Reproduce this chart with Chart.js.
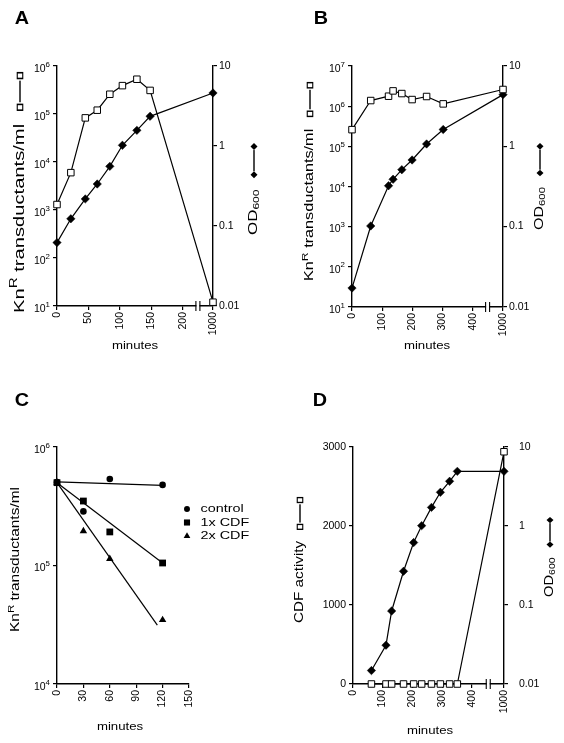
<!DOCTYPE html>
<html>
<head>
<meta charset="utf-8">
<title>KnR transductants, OD600 and CDF activity</title>
<script src="https://cdn.jsdelivr.net/npm/chart.js@4.4.1/dist/chart.umd.min.js"></script>
<style>
  html, body { margin: 0; padding: 0; background: #fff; }
  #page { position: relative; width: 564px; height: 743px; overflow: hidden; background: #fff; }
  #page canvas { position: absolute; }
</style>
</head>
<body>
<div id="page">
  <canvas id="chart-a" width="282" height="370" style="left:0;top:0"></canvas>
  <canvas id="chart-b" width="282" height="370" style="left:282px;top:0"></canvas>
  <canvas id="chart-c" width="282" height="373" style="left:0;top:370px"></canvas>
  <canvas id="chart-d" width="282" height="373" style="left:282px;top:370px"></canvas>
</div>
<script>
// Panel A: KnR transductants/ml (open squares) and OD600 (filled diamonds)
var aMinutes = [0, 22, 45, 64, 84, 104, 127, 148, 1000];
var aKnR = [1300, 6000, 83000, 120000, 258000, 390000, 530000, 310000, 12];
var aOD = [0.062, 0.123, 0.218, 0.335, 0.557, 1.02, 1.57, 2.35, 4.6];
var aXTicks = [0, 50, 100, 150, 200, 1000];
var aKnTicks = [10, 100, 1000, 10000, 100000, 1000000];
var aKnExp = ['1', '2', '3', '4', '5', '6'];

// Panel B
var bMinutes = [0, 62, 121, 136, 165, 199, 247, 302, 1000];
var bKnR = [260000, 1380000, 1770000, 2400000, 2060000, 1460000, 1740000, 1140000, 2600000];
var bOD = [0.0172, 0.102, 0.323, 0.389, 0.512, 0.676, 1.07, 1.62, 4.4];
var bXTicks = [0, 100, 200, 300, 400, 1000];
var bKnTicks = [10, 100, 1000, 10000, 100000, 1000000, 10000000];
var bKnExp = ['1', '2', '3', '4', '5', '6', '7'];

// Panel C: decay of transducing activity, measured points and fitted lines
var cMinutes = [0, 30, 60, 120];
var cControl = [505000, 286000, 537000, 479000];
var c1xCDF = [500000, 350000, 192000, 105000];
var c2xCDF = [500000, 195000, 114000, 34700];
var cFitMinutes = [0, 120];
var cFitControl = [507000, 474000];
var cFit1x = [500000, 105000];
var cFit2xMinutes = [0, 114];
var cFit2x = [500000, 31400];
var cLegend = ['control', '1x CDF', '2x CDF'];
var cXTicks = [0, 30, 60, 90, 120, 150];
var cKnTicks = [10000, 100000, 1000000];
var cKnExp = ['4', '5', '6'];

// Panel D: CDF activity (open squares) and OD600 (filled diamonds)
var dMinutes = [62, 111, 130, 170, 204, 231, 264, 294, 325, 351, 1000];
var dCDF = [0, 0, 0, 0, 0, 0, 0, 0, 0, 0, 2940];
var dOD = [0.0148, 0.031, 0.084, 0.267, 0.617, 1.01, 1.72, 2.67, 3.68, 4.92, 4.92];
var dXTicks = [0, 100, 200, 300, 400, 1000];
var dCDFTicks = [0, 1000, 2000, 3000];

var odTicks = [0.01, 0.1, 1, 10];
var odLabels = ['0.01', '0.1', '1', '10'];

var INK = '#000';
var FONT = '"Liberation Sans", Arial, Helvetica, sans-serif';

// plot boxes in canvas pixels; "cut" is where the axis break sits, "end" is where 1000 min lands
var GEO_A = { w: 282, h: 370, left: 57, right: 213, top: 66, bottom: 306, cut: 224, end: 248 };
var GEO_B = { w: 282, h: 370, left: 70, right: 221, top: 66, bottom: 307, cut: 449, end: 500 };
var GEO_C = { w: 282, h: 373, left: 57, right: 189, top: 77, bottom: 314 };
var GEO_D = { w: 282, h: 373, left: 71, right: 222, top: 77, bottom: 314, cut: 455, end: 508 };

function placeX(t, geo) { return geo.cut && t > geo.cut ? geo.end : t; }

function points(xs, ys, geo) {
  return xs.map(function (t, i) { return { x: geo ? placeX(t, geo) : t, y: ys[i] }; });
}

function measureParts(ctx, parts) {
  return parts.map(function (p) {
    if (p.t == null) return p.w;
    ctx.font = (p.bold ? 'bold ' : '') + p.size + 'px ' + FONT;
    return ctx.measureText(p.t).width;
  });
}

// one run of text pieces / key symbols on a common baseline, optionally rotated and stretched
function drawRich(ctx, parts, o) {
  var widths = measureParts(ctx, parts);
  var total = widths.reduce(function (a, b) { return a + b; }, 0);
  var sx = o.len ? o.len / total : (o.stretch || 1);
  var cur = o.align === 'right' ? -total : o.align === 'center' ? -total / 2 : 0;
  ctx.save();
  ctx.translate(o.x, o.y);
  if (o.rot) ctx.rotate(o.rot);
  ctx.scale(sx, 1);
  ctx.fillStyle = INK;
  ctx.strokeStyle = INK;
  ctx.textAlign = 'left';
  ctx.textBaseline = 'middle';
  parts.forEach(function (p, i) {
    var w = widths[i];
    if (p.t != null) {
      ctx.font = (p.bold ? 'bold ' : '') + p.size + 'px ' + FONT;
      ctx.fillText(p.t, cur, p.dy || 0);
    } else if (p.sym === 'square') {
      ctx.lineWidth = 1.1;
      ctx.strokeRect(cur + 0.5, -p.h / 2, w - 1, p.h);
    } else if (p.sym === 'diamond') {
      ctx.beginPath();
      ctx.moveTo(cur, 0);
      ctx.lineTo(cur + w / 2, -p.h / 2);
      ctx.lineTo(cur + w, 0);
      ctx.lineTo(cur + w / 2, p.h / 2);
      ctx.closePath();
      ctx.fill();
    } else if (p.sym === 'line') {
      ctx.fillRect(cur, -0.7, w, 1.4);
    }
    cur += w;
  });
  ctx.restore();
}

var TICK_PT = 10;
var TICK_STRETCH = 1.05;

function logLabels(ctx, scale, values, exps, gap) {
  values.forEach(function (v, i) {
    drawRich(ctx, [{ t: '10', size: TICK_PT }, { t: exps[i], size: 7.5, dy: -4.5 }],
      { x: scale.right - gap, y: scale.getPixelForValue(v) + 3, align: 'right', stretch: TICK_STRETCH });
  });
}

function plainLabels(ctx, scale, values, labels, gap, side) {
  values.forEach(function (v, i) {
    var left = side === 'left';
    drawRich(ctx, [{ t: labels[i], size: TICK_PT }],
      { x: left ? scale.right - gap : scale.left + gap, y: scale.getPixelForValue(v),
        align: left ? 'right' : 'left', stretch: TICK_STRETCH });
  });
}

function xLabels(ctx, scale, values, labels) {
  values.forEach(function (v, i) {
    drawRich(ctx, [{ t: String(labels[i]), size: TICK_PT }],
      { x: scale.getPixelForValue(v), y: scale.top + 6, rot: -Math.PI / 2, align: 'right', stretch: TICK_STRETCH });
  });
}

function vTitle(ctx, parts, x, yStart, yEnd) {
  drawRich(ctx, parts, { x: x, y: yStart, rot: -Math.PI / 2, len: yStart - yEnd });
}

function axisBreak(ctx, xs, at) {
  var px = xs.getPixelForValue(at);
  var y = xs.top;
  ctx.save();
  ctx.fillStyle = '#fff';
  ctx.fillRect(px - 1.5, y - 2, 3, 4);
  ctx.strokeStyle = INK;
  ctx.lineWidth = 1.1;
  ctx.beginPath();
  ctx.moveTo(px - 2, y - 5); ctx.lineTo(px - 2, y + 5);
  ctx.moveTo(px + 2, y - 5); ctx.lineTo(px + 2, y + 5);
  ctx.stroke();
  ctx.restore();
}

function knTitle(size) {
  return [{ t: 'Kn', size: size }, { t: 'R', size: size * 0.75, dy: -size * 0.4 }, { t: ' transductants/ml', size: size }];
}
var SQUARE_KEY = [{ w: 9 }, { sym: 'square', w: 5, h: 5.5 }, { w: 1 }, { sym: 'line', w: 15 }, { w: 1 }, { sym: 'square', w: 5, h: 5.5 }];
var OD_TITLE = [{ t: 'OD', size: 12 }, { t: '600', size: 8.5, dy: 3 }, { w: 8 },
  { sym: 'diamond', w: 5, h: 7 }, { sym: 'line', w: 15 }, { sym: 'diamond', w: 5, h: 7 }];

function panelLetter(ctx, letter, x, y) {
  drawRich(ctx, [{ t: letter, size: 18, bold: true }], { x: x, y: y, align: 'center', stretch: 1.1 });
}

function minutesLabel(ctx, x, y) {
  drawRich(ctx, [{ t: 'minutes', size: 11 }], { x: x, y: y, align: 'center', stretch: 1.2 });
}

function axis(extra) {
  var base = {
    ticks: { display: false },
    grid: { display: true, drawOnChartArea: false, drawTicks: true, tickLength: 4, color: INK, lineWidth: 1.2 },
    border: { display: true, color: INK, width: 1.4 }
  };
  return Object.assign(base, extra);
}

function fixedTicks(values) {
  return function (s) { s.ticks = values.map(function (v) { return { value: v }; }); };
}

function leftAxis(geo, extra) {
  return axis(Object.assign({ axis: 'y', position: 'left', afterFit: function (s) { s.width = geo.left; } }, extra));
}

function rightAxis(geo, extra) {
  return axis(Object.assign({ axis: 'y', position: 'right', afterFit: function (s) { s.width = geo.w - geo.right; } }, extra));
}

function squareSet(data, yAxisID) {
  return { data: data, yAxisID: yAxisID, showLine: true, clip: false, tension: 0,
    borderColor: INK, borderWidth: 1.2, pointStyle: 'rect', pointRadius: 4.6,
    pointBackgroundColor: '#fff', pointBorderColor: INK, pointBorderWidth: 1 };
}

function diamondSet(data, yAxisID) {
  return { data: data, yAxisID: yAxisID, showLine: true, clip: false, tension: 0,
    borderColor: INK, borderWidth: 1.2, pointStyle: 'rectRot', pointRadius: 4.2,
    pointBackgroundColor: INK, pointBorderColor: INK, pointBorderWidth: 0.5 };
}

function makeChart(id, geo, xMax, xTickPos, yScales, datasets, decorate) {
  var scales = {
    x: axis({ type: 'linear', axis: 'x', position: 'bottom', min: 0, max: xMax,
      afterBuildTicks: fixedTicks(xTickPos),
      afterFit: function (s) { s.height = geo.h - geo.bottom; } })
  };
  Object.keys(yScales).forEach(function (k) { scales[k] = yScales[k]; });
  return new Chart(document.getElementById(id), {
    type: 'scatter',
    data: { datasets: datasets },
    options: {
      responsive: false,
      animation: false,
      events: [],
      layout: { autoPadding: false, padding: { top: geo.top, left: 0, bottom: 0, right: geo.padRight || 0 } },
      plugins: { legend: { display: false }, tooltip: { enabled: false } },
      scales: scales
    },
    plugins: [{ id: 'decor-' + id, afterDraw: decorate }]
  });
}

// ---- A ----
makeChart('chart-a', GEO_A, GEO_A.end, aXTicks.map(function (t) { return placeX(t, GEO_A); }), {
  yKn: leftAxis(GEO_A, { type: 'logarithmic', min: 10, max: 1000000, afterBuildTicks: fixedTicks(aKnTicks) }),
  yOd: rightAxis(GEO_A, { type: 'logarithmic', min: 0.01, max: 10, afterBuildTicks: fixedTicks(odTicks) })
}, [
  squareSet(points(aMinutes, aKnR, GEO_A), 'yKn'),
  diamondSet(points(aMinutes, aOD, GEO_A), 'yOd')
], function (chart) {
  var ctx = chart.ctx, s = chart.scales;
  panelLetter(ctx, 'A', 22, 19);
  logLabels(ctx, s.yKn, aKnTicks, aKnExp, 7);
  plainLabels(ctx, s.yOd, odTicks, odLabels, 6, 'right');
  xLabels(ctx, s.x, aXTicks.map(function (t) { return placeX(t, GEO_A); }), aXTicks);
  axisBreak(ctx, s.x, GEO_A.cut);
  vTitle(ctx, knTitle(14).concat(SQUARE_KEY), 20, 313, 72);
  vTitle(ctx, OD_TITLE, 254, 235, 143);
  minutesLabel(ctx, 135, 346);
});

// ---- B ----
makeChart('chart-b', GEO_B, GEO_B.end, bXTicks.map(function (t) { return placeX(t, GEO_B); }), {
  yKn: leftAxis(GEO_B, { type: 'logarithmic', min: 10, max: 10000000, afterBuildTicks: fixedTicks(bKnTicks) }),
  yOd: rightAxis(GEO_B, { type: 'logarithmic', min: 0.01, max: 10, afterBuildTicks: fixedTicks(odTicks) })
}, [
  squareSet(points(bMinutes, bKnR, GEO_B), 'yKn'),
  diamondSet(points(bMinutes, bOD, GEO_B), 'yOd')
], function (chart) {
  var ctx = chart.ctx, s = chart.scales;
  panelLetter(ctx, 'B', 39, 19);
  logLabels(ctx, s.yKn, bKnTicks, bKnExp, 7);
  plainLabels(ctx, s.yOd, odTicks, odLabels, 6, 'right');
  xLabels(ctx, s.x, bXTicks.map(function (t) { return placeX(t, GEO_B); }), bXTicks);
  axisBreak(ctx, s.x, GEO_B.cut);
  vTitle(ctx, knTitle(12.5).concat(SQUARE_KEY), 28, 281, 82);
  vTitle(ctx, OD_TITLE, 258, 230, 143);
  minutesLabel(ctx, 145, 346);
});

// ---- C ----
GEO_C.padRight = GEO_C.w - GEO_C.right;
makeChart('chart-c', GEO_C, 150, cXTicks, {
  yKn: leftAxis(GEO_C, { type: 'logarithmic', min: 10000, max: 1000000, afterBuildTicks: fixedTicks(cKnTicks) })
}, [
  { data: points(cMinutes, cControl), yAxisID: 'yKn', showLine: false, clip: false, pointStyle: 'circle',
    pointRadius: 3.3, pointBackgroundColor: INK, pointBorderColor: INK, pointBorderWidth: 0 },
  { data: points(cMinutes, c1xCDF), yAxisID: 'yKn', showLine: false, clip: false, pointStyle: 'rect',
    pointRadius: 4.8, pointBackgroundColor: INK, pointBorderColor: INK, pointBorderWidth: 0 },
  { data: points(cMinutes, c2xCDF), yAxisID: 'yKn', showLine: false, clip: false, pointStyle: 'triangle',
    pointRadius: 4.3, pointBackgroundColor: INK, pointBorderColor: INK, pointBorderWidth: 0 },
  { data: points(cFitMinutes, cFitControl), yAxisID: 'yKn', showLine: true, clip: false, pointRadius: 0, borderColor: INK, borderWidth: 1.2 },
  { data: points(cFitMinutes, cFit1x), yAxisID: 'yKn', showLine: true, clip: false, pointRadius: 0, borderColor: INK, borderWidth: 1.2 },
  { data: points(cFit2xMinutes, cFit2x), yAxisID: 'yKn', showLine: true, clip: false, pointRadius: 0, borderColor: INK, borderWidth: 1.2 }
], function (chart) {
  var ctx = chart.ctx, s = chart.scales;
  panelLetter(ctx, 'C', 22, 31);
  logLabels(ctx, s.yKn, cKnTicks, cKnExp, 7);
  xLabels(ctx, s.x, cXTicks, cXTicks);
  vTitle(ctx, knTitle(12), 16, 262, 117);
  minutesLabel(ctx, 120, 357);
  cLegend.forEach(function (label, i) {
    var ds = chart.data.datasets[i];
    var y = 139 + i * 13.5;
    ctx.save();
    ctx.fillStyle = INK;
    Chart.helpers.drawPoint(ctx, { pointStyle: ds.pointStyle, radius: ds.pointRadius * 0.9, borderWidth: 0, rotation: 0 }, 187, y);
    ctx.restore();
    drawRich(ctx, [{ t: label, size: 11.5 }], { x: 200.5, y: y, stretch: 1.25 });
  });
});

// ---- D ----
makeChart('chart-d', GEO_D, GEO_D.end, dXTicks.map(function (t) { return placeX(t, GEO_D); }), {
  yCdf: leftAxis(GEO_D, { type: 'linear', min: 0, max: 3000, afterBuildTicks: fixedTicks(dCDFTicks) }),
  yOd: rightAxis(GEO_D, { type: 'logarithmic', min: 0.01, max: 10, afterBuildTicks: fixedTicks(odTicks) })
}, [
  squareSet(points(dMinutes, dCDF, GEO_D), 'yCdf'),
  diamondSet(points(dMinutes, dOD, GEO_D), 'yOd')
], function (chart) {
  var ctx = chart.ctx, s = chart.scales;
  panelLetter(ctx, 'D', 38, 31);
  plainLabels(ctx, s.yCdf, dCDFTicks, dCDFTicks.map(String), 7, 'left');
  plainLabels(ctx, s.yOd, odTicks, odLabels, 15, 'right');
  xLabels(ctx, s.x, dXTicks.map(function (t) { return placeX(t, GEO_D); }), dXTicks);
  axisBreak(ctx, s.x, GEO_D.cut);
  vTitle(ctx, [{ t: 'CDF activity', size: 12.5 }].concat(SQUARE_KEY), 18, 253, 127);
  vTitle(ctx, OD_TITLE, 268, 227, 147);
  minutesLabel(ctx, 148, 361);
});
</script>
</body>
</html>
